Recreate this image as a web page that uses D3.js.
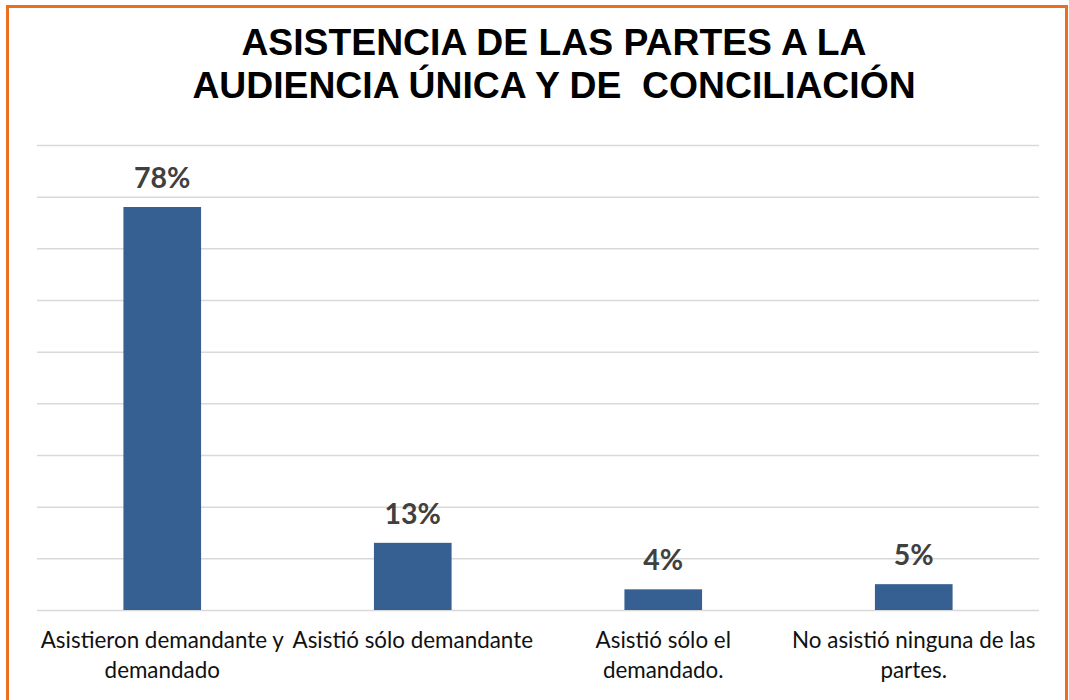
<!DOCTYPE html>
<html><head><meta charset="utf-8">
<script src="https://cdn.jsdelivr.net/npm/d3@7"></script>
<style>body{margin:0;background:#fff}svg{display:block}</style>
</head><body>
<svg id="c" width="1069" height="700"></svg>
<script>
const titleLines = ["ASISTENCIA DE LAS PARTES A LA", "AUDIENCIA ÚNICA Y DE  CONCILIACIÓN"];
const categories = ["Asistieron demandante y demandado", "Asistió sólo demandante", "Asistió sólo el demandado.", "No asistió ninguna de las partes."];
const categoryLines = [["Asistieron demandante y", "demandado"], ["Asistió sólo demandante"], ["Asistió sólo el", "demandado."], ["No asistió ninguna de las", "partes."]];
const values = [78, 13, 4, 5];
const gridTicks = [0, 10, 20, 30, 40, 50, 60, 70, 80, 90];

const svg = d3.select("#c");
const W = 1069, H = 700;
const m = {left: 37, right: 30, top: 145, bottom: 90};

svg.append("rect").attr("x", 7.5).attr("y", 6.5).attr("width", 1059).attr("height", 720)
  .attr("fill", "#fff").attr("stroke", "#E8701E").attr("stroke-width", 3);

const x = d3.scaleBand().domain(categories).range([m.left, W - m.right]).paddingInner(0.69).paddingOuter(0.345);
const y = d3.scaleLinear().domain([0, 90]).range([H - m.bottom, m.top]);

const grid = svg.append("g").attr("transform", `translate(${m.left},0)`)
  .call(d3.axisLeft(y).tickValues(gridTicks).tickSize(-(W - m.right - m.left)).tickFormat(""));
grid.select(".domain").remove();
grid.selectAll(".tick line").attr("stroke", "#D9D9D9").attr("stroke-width", 1.5);

svg.append("g").selectAll("rect").data(values).join("rect")
  .attr("x", (d, i) => x(categories[i]))
  .attr("y", d => y(d))
  .attr("width", x.bandwidth())
  .attr("height", d => y(0) - y(d))
  .attr("fill", "#366092");

svg.append("g").selectAll("text").data(values).join("text")
  .attr("x", (d, i) => x(categories[i]) + x.bandwidth() / 2)
  .attr("y", d => y(d) - 19)
  .attr("text-anchor", "middle")
  .attr("font-family", "Lato, 'Open Sans', sans-serif")
  .attr("font-weight", "bold").attr("font-size", 28.5).attr("fill", "#404040")
  .text(d => d + "%");

const cat = svg.append("g").selectAll("text").data(categories).join("text")
  .attr("text-anchor", "middle")
  .attr("font-family", "Lato, 'Open Sans', sans-serif")
  .attr("font-size", 22.4).attr("fill", "#111");
cat.each(function(d, i) {
  const t = d3.select(this);
  categoryLines[i].forEach((ln, j) => {
    t.append("tspan").attr("x", x(d) + x.bandwidth() / 2).attr("y", 648 + j * 30).text(ln);
  });
});

const title = svg.append("text").attr("text-anchor", "middle")
  .attr("font-family", "'Liberation Sans', Arial, sans-serif").attr("font-weight", "bold")
  .attr("font-size", 37.3).attr("fill", "#000").style("white-space", "pre");
titleLines.forEach((ln, j) => {
  title.append("tspan").attr("x", 554).attr("y", 55 + j * 43).text(ln);
});
</script>
</body></html>
